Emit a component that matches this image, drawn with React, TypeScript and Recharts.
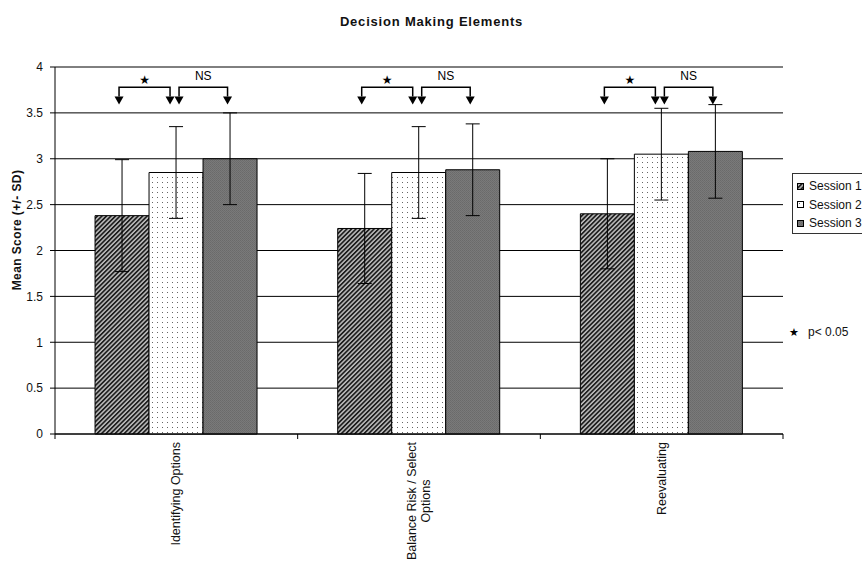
import React from 'react';
import { BarChart, Bar, XAxis, YAxis, CartesianGrid, ErrorBar, LabelList } from 'recharts';

// ---------- data ----------
const categories = ['Identifying Options', 'Balance Risk / Select\nOptions', 'Reevaluating'];
const seriesNames = ['Session 1', 'Session 2', 'Session 3'];
const session1Mean = [2.38, 2.24, 2.4];
const session1SD = [0.61, 0.6, 0.6];
const session2Mean = [2.85, 2.85, 3.05];
const session2SD = [0.5, 0.5, 0.5];
const session3Mean = [3.0, 2.88, 3.08];
const session3SD = [0.5, 0.5, 0.51];
const yTicks = [0, 0.5, 1, 1.5, 2, 2.5, 3, 3.5, 4];
const comparisonLabels = ['★', 'NS']; // Session 1 vs 2, Session 2 vs 3
const comparisonLabelLevels = [3.81, 3.86];
const bracketLevel = 3.78;
const arrowTipLevel = 3.59;
const titleText = 'Decision Making Elements';
const yAxisTitle = 'Mean Score (+/- SD)';
const noteText = 'p< 0.05';

const data = categories.map((c, i) => ({
  category: c,
  s1: session1Mean[i],
  s1e: session1SD[i],
  s2: session2Mean[i],
  s2e: session2SD[i],
  s3: session3Mean[i],
  s3e: session3SD[i],
}));

// ---------- layout ----------
const W = 862;
const H = 565;
const MARGIN = { top: 67, right: 79, bottom: 0, left: 0 };
const Y_AXIS_W = 55;
const X_AXIS_H = 131;
const PLOT_W = W - MARGIN.right - MARGIN.left - Y_AXIS_W;
const BAND = PLOT_W / categories.length;
const FONT = "'Liberation Sans', Arial, Helvetica, sans-serif";
const fills = ['url(#pS1)', 'url(#pS2)', 'url(#pS3)'];

let measureCtx: CanvasRenderingContext2D | null = null;
const measure = (text: string, font: string) => {
  if (!measureCtx) {
    const c = document.createElement('canvas');
    measureCtx = c.getContext('2d');
  }
  if (!measureCtx) return text.length * 6.5;
  measureCtx.font = font;
  return measureCtx.measureText(text).width;
};

const XTick = (props: any) => {
  const { x, y, payload, index } = props;
  const lines = String(payload.value).split('\n');
  const fs = 12.5;
  const maxW = Math.max(...lines.map((l) => measure(l, `${fs}px ${FONT}`)));
  const top = y + 8;
  const cy = top + maxW / 2;
  const lh = 14;
  return (
    <g>
      <line x1={x - BAND / 2} x2={x - BAND / 2} y1={y} y2={y + 5} stroke="#000" />
      {index === categories.length - 1 && (
        <line x1={x + BAND / 2} x2={x + BAND / 2} y1={y} y2={y + 5} stroke="#000" />
      )}
      {lines.map((l, i) => {
        const lx = x + (i - (lines.length - 1) / 2) * lh;
        return (
          <text
            key={i}
            x={lx}
            y={cy}
            transform={`rotate(-90, ${lx}, ${cy})`}
            textAnchor="middle"
            dominantBaseline="central"
            fontSize={fs}
            fontFamily={FONT}
            fill="#111"
          >
            {l}
          </text>
        );
      })}
    </g>
  );
};

const Annotation = (props: any) => {
  const vb = props.viewBox && props.viewBox.width != null ? props.viewBox : props;
  const { x, y, width, height } = vb;
  const idx = props.index;
  const val = session3Mean[idx];
  if (x == null || !height || !val) return null;
  const base = y + height;
  const unit = height / val;
  const yOf = (v: number) => base - v * unit;
  const c3 = x + width / 2;
  const c2 = c3 - width;
  const c1 = c3 - 2 * width;
  const by = yOf(bracketLevel);
  const ty = yOf(arrowTipLevel);
  const hh = 8;
  const hw = 4.5;
  const pairs: [number, number][] = [
    [c1 - 3, c2 - 6],
    [c2 + 3, c3 - 2.5],
  ];
  return (
    <g>
      {pairs.map(([a, b], i) => (
        <g key={i}>
          <path d={`M${a},${ty - hh} V${by} H${b} V${ty - hh}`} fill="none" stroke="#000" strokeWidth={1.5} />
          <path d={`M${a - hw},${ty - hh} L${a + hw},${ty - hh} L${a},${ty} Z`} fill="#000" />
          <path d={`M${b - hw},${ty - hh} L${b + hw},${ty - hh} L${b},${ty} Z`} fill="#000" />
          <text
            x={(a + b) / 2}
            y={yOf(comparisonLabelLevels[i])}
            textAnchor="middle"
            fontSize={i === 0 ? 12 : 12}
            fontFamily={i === 0 ? "'DejaVu Sans', sans-serif" : FONT}
            fill="#000"
          >
            {comparisonLabels[i]}
          </text>
        </g>
      ))}
    </g>
  );
};

const Patterns = () => (
  <svg width={0} height={0} style={{ position: 'absolute' }}>
    <defs>
      <pattern id="pS1" width={3.2} height={3.2} patternUnits="userSpaceOnUse" patternTransform="rotate(45)">
        <rect width={3.2} height={3.2} fill="#bdbdbd" />
        <rect width={1.7} height={3.2} fill="#1e1e1e" />
      </pattern>
      <pattern id="pS2" width={5} height={5} patternUnits="userSpaceOnUse">
        <rect width={5} height={5} fill="#ffffff" />
        <rect x={2} y={2} width={1} height={1} fill="#666" />
      </pattern>
      <pattern id="pS3" width={2} height={2} patternUnits="userSpaceOnUse">
        <rect width={2} height={2} fill="#7a7a7a" />
        <rect width={1} height={1} fill="#6a6a6a" />
        <rect x={1} y={1} width={1} height={1} fill="#6e6e6e" />
      </pattern>
    </defs>
  </svg>
);

export default function App() {
  return (
    <div style={{ position: 'absolute', left: 0, top: 0, width: W, height: H, background: '#fff', overflow: 'hidden' }}>
      <Patterns />
      <BarChart
        width={W}
        height={H}
        data={data}
        margin={MARGIN}
        barCategoryGap="16.5%"
        barGap={0}
      >
        <CartesianGrid horizontal vertical={false} stroke="#000" strokeOpacity={1} />
        <XAxis
          dataKey="category"
          height={X_AXIS_H}
          tickLine={false}
          tickSize={0}
          tickMargin={0}
          axisLine={{ stroke: '#000' }}
          tick={<XTick />}
          interval={0}
        />
        <YAxis
          domain={[0, 4]}
          ticks={yTicks}
          width={Y_AXIS_W}
          tickSize={5}
          tickMargin={7}
          tickLine={{ stroke: '#000' }}
          axisLine={{ stroke: '#000' }}
          tick={{ fill: '#111', fontSize: 12, fontFamily: FONT }}
          interval={0}
        />
        <Bar dataKey="s1" name={seriesNames[0]} fill={fills[0]} stroke="#000" strokeWidth={1} isAnimationActive={false}>
          <ErrorBar dataKey="s1e" width={7} stroke="#000" strokeWidth={1} direction="y" />
        </Bar>
        <Bar dataKey="s2" name={seriesNames[1]} fill={fills[1]} stroke="#000" strokeWidth={1} isAnimationActive={false}>
          <ErrorBar dataKey="s2e" width={7} stroke="#000" strokeWidth={1} direction="y" />
        </Bar>
        <Bar dataKey="s3" name={seriesNames[2]} fill={fills[2]} stroke="#000" strokeWidth={1} isAnimationActive={false}>
          <ErrorBar dataKey="s3e" width={7} stroke="#000" strokeWidth={1} direction="y" />
          <LabelList dataKey="s3" content={<Annotation />} />
        </Bar>
      </BarChart>

      <svg width={W} height={H} style={{ position: 'absolute', left: 0, top: 0, pointerEvents: 'none' }}>
        <text
          x={431.5}
          y={26}
          textAnchor="middle"
          fontSize={13}
          fontWeight="bold"
          letterSpacing={0.8}
          fontFamily={FONT}
          fill="#111"
        >
          {titleText}
        </text>
        <text
          x={21}
          y={230}
          transform="rotate(-90, 21, 230)"
          textAnchor="middle"
          fontSize={12}
          fontWeight="bold"
          letterSpacing={0.4}
          fontFamily={FONT}
          fill="#111"
        >
          {yAxisTitle}
        </text>
        <text x={794} y={336} textAnchor="middle" fontSize={11} fontFamily="'DejaVu Sans', sans-serif" fill="#000">
          {comparisonLabels[0]}
        </text>
        <text x={808} y={336} fontSize={12} fontFamily={FONT} fill="#111">
          {noteText}
        </text>
      </svg>

      <div
        style={{
          position: 'absolute',
          left: 792,
          top: 173,
          width: 100,
          height: 61,
          border: '1px solid #333',
          boxSizing: 'border-box',
          fontFamily: FONT,
          fontSize: 12,
          color: '#111',
          paddingTop: 3,
        }}
      >
        {seriesNames.map((s, i) => (
          <div key={s} style={{ display: 'flex', alignItems: 'center', height: 18.5, whiteSpace: 'nowrap' }}>
            <svg width={7} height={7} style={{ marginLeft: 4, marginRight: 5, flex: 'none' }}>
              <rect x={0.5} y={0.5} width={6} height={6} fill={fills[i]} stroke="#000" strokeWidth={1} />
            </svg>
            <span>{s}</span>
          </div>
        ))}
      </div>
    </div>
  );
}
